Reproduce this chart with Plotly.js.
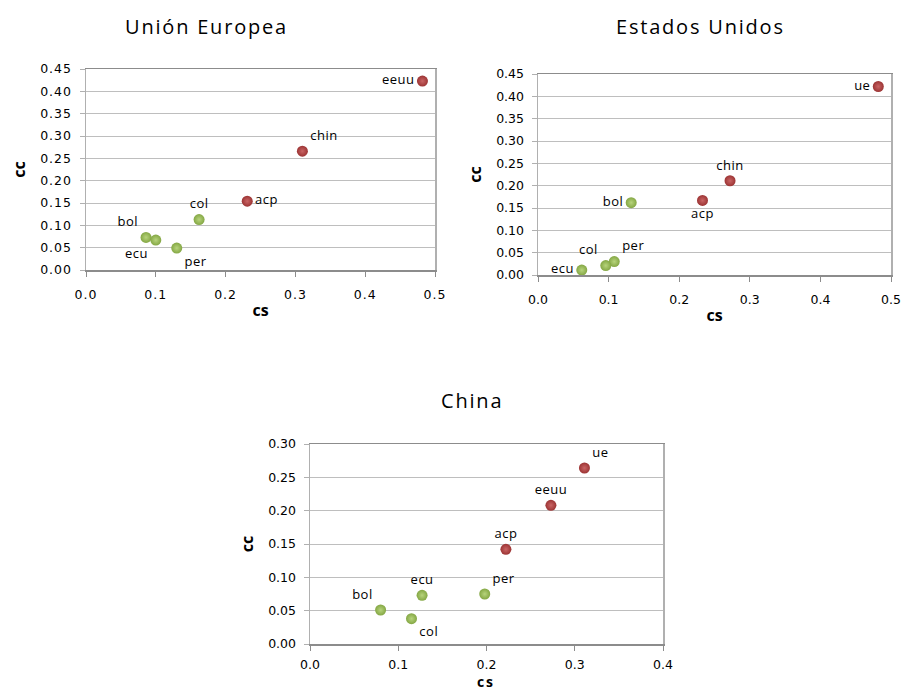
<!DOCTYPE html>
<html>
<head>
<meta charset="utf-8">
<script src="https://cdn.plot.ly/plotly-3.0.1.min.js"></script>
<style>
body{margin:0;padding:0;background:#fff;}
#chart{width:902px;height:691px;}
.xtick text, .ytick text { letter-spacing: 1px; }
.annotation-text { letter-spacing: 1.8px; }
.textpoint text { letter-spacing: 0.5px; }
</style>
</head>
<body>
<div id="chart"></div>
<script>
// ---- Data ----
const titles = ["Unión Europea", "Estados Unidos", "China"];
const xTitle = "cs", yTitle = "cc";

// Unión Europea
const ueRedNames = ["eeuu", "chin", "acp"];
const ueRedCs = [0.482, 0.310, 0.231];
const ueRedCc = [0.423, 0.266, 0.154];
const ueGreenNames = ["col", "bol", "ecu", "per"];
const ueGreenCs = [0.162, 0.086, 0.100, 0.130];
const ueGreenCc = [0.113, 0.073, 0.067, 0.049];

// Estados Unidos
const usRedNames = ["ue", "chin", "acp"];
const usRedCs = [0.482, 0.272, 0.233];
const usRedCc = [0.422, 0.211, 0.167];
const usGreenNames = ["bol", "per", "col", "ecu"];
const usGreenCs = [0.132, 0.108, 0.096, 0.062];
const usGreenCc = [0.162, 0.030, 0.021, 0.011];

// China
const cnRedNames = ["ue", "eeuu", "acp"];
const cnRedCs = [0.311, 0.273, 0.222];
const cnRedCc = [0.264, 0.208, 0.142];
const cnGreenNames = ["per", "ecu", "bol", "col"];
const cnGreenCs = [0.198, 0.127, 0.080, 0.115];
const cnGreenCc = [0.075, 0.073, 0.051, 0.038];

// ---- Styling ----
const W = 902, H = 691;
const red = "#9C3434", redHi = "#C96464";
const green = "#84A744", greenHi = "#B7D47C";
const labelFont = {family: "Open Sans, Noto Sans, sans-serif", size: 13, color: "#000"};

function pts(names, xs, ys, color, hi, pos, xa, ya) {
  return {
    type: "scatter", mode: "markers+text",
    x: xs, y: ys, text: names, textposition: pos,
    textfont: labelFont, cliponaxis: false,
    marker: {size: 11, color: color, gradient: {type: "radial", color: hi}, line: {width: 0}},
    xaxis: xa, yaxis: ya, showlegend: false, hoverinfo: "x+y+text"
  };
}

const data = [
  pts(ueRedNames, ueRedCs, ueRedCc, red, redHi, ["middle left", "top right", "middle right"], "x", "y"),
  pts(ueGreenNames, ueGreenCs, ueGreenCc, green, greenHi, ["top center", "top left", "bottom left", "bottom right"], "x", "y"),
  pts(usRedNames, usRedCs, usRedCc, red, redHi, ["middle left", "top center", "bottom center"], "x2", "y2"),
  pts(usGreenNames, usGreenCs, usGreenCc, green, greenHi, ["middle left", "top right", "top left", "middle left"], "x2", "y2"),
  pts(cnRedNames, cnRedCs, cnRedCc, red, redHi, ["top right", "top center", "top center"], "x3", "y3"),
  pts(cnGreenNames, cnGreenCs, cnGreenCc, green, greenHi, ["top right", "top center", "top left", "bottom right"], "x3", "y3")
];

const tickFont = {family: "DejaVu Sans, Verdana, sans-serif", size: 12.5, color: "#000"};
const axTitleFont = {family: "Open Sans, sans-serif", size: 16, color: "#000", weight: "bold"};

function xax(domain, max, anchor, titleText, labelStandoff) {
  return {
    domain: domain, range: [0, max], anchor: anchor, dtick: 0.1, tick0: 0, tickformat: ".1f",
    showgrid: false, zeroline: false, showline: true, linecolor: "#8C8C8C", linewidth: 1.5, mirror: true,
    ticks: "outside", ticklen: 5, tickcolor: "#8C8C8C", tickfont: tickFont, ticklabelstandoff: labelStandoff,
    title: {text: titleText, font: axTitleFont, standoff: 4}, fixedrange: true
  };
}
function yax(domain, max, anchor) {
  return {
    domain: domain, range: [0, max], anchor: anchor, dtick: 0.05, tick0: 0, tickformat: ".2f",
    showgrid: true, gridcolor: "#BEBEBE", gridwidth: 1, zeroline: false,
    showline: true, linecolor: "#B0B0B0", linewidth: 1.5, mirror: true,
    ticks: "outside", ticklen: 5, tickcolor: "#B0B0B0", tickfont: tickFont, ticklabelstandoff: 5,
    title: {text: yTitle, font: axTitleFont, standoff: 10}, fixedrange: true
  };
}

const titleAnn = [
  {text: titles[0], x: 206 / W, y: 1 - 27 / H},
  {text: titles[1], x: 700 / W, y: 1 - 27 / H},
  {text: titles[2], x: 472 / W, y: 1 - 400 / H}
].map(a => Object.assign(a, {
  xref: "paper", yref: "paper", xanchor: "center", yanchor: "middle", showarrow: false,
  font: {family: "Open Sans, Noto Sans, sans-serif", size: 20, color: "#000"}
}));
// x-axis title of the China chart sits at the very bottom edge of the picture
titleAnn.push({
  text: xTitle, xref: "paper", yref: "paper", x: 486.5 / W, y: 0,
  xanchor: "center", yanchor: "bottom", yshift: -2, showarrow: false,
  font: Object.assign({}, axTitleFont, {size: 14})
});

const layout = {
  width: W, height: H,
  margin: {l: 0, r: 0, t: 0, b: 0},
  paper_bgcolor: "#fff", plot_bgcolor: "#fff",
  showlegend: false,
  xaxis: xax([86 / W, 435 / W], 0.5, "y", xTitle, 7),
  yaxis: yax([1 - 270 / H, 1 - 69 / H], 0.45, "x"),
  xaxis2: xax([538 / W, 891 / W], 0.5, "y2", xTitle, 7),
  yaxis2: yax([1 - 275 / H, 1 - 74 / H], 0.45, "x2"),
  xaxis3: xax([310 / W, 663 / W], 0.4, "y3", "", 3),
  yaxis3: yax([1 - 644 / H, 1 - 444 / H], 0.30, "x3"),
  annotations: titleAnn
};

Plotly.newPlot("chart", data, layout, {displayModeBar: false, staticPlot: true});
</script>
</body>
</html>
